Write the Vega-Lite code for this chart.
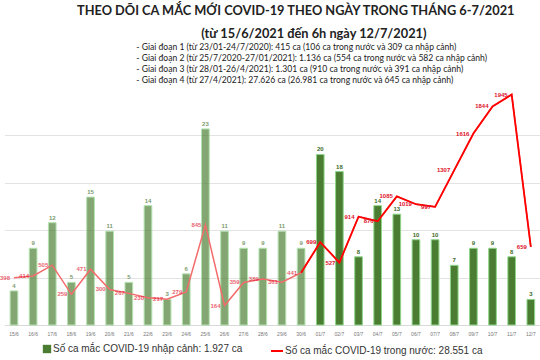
{
  "$schema": "https://vega.github.io/schema/vega-lite/v6.json",
  "width": 536,
  "height": 237,
  "autosize": "none",
  "padding": {"left": 4.4, "top": 88, "right": 0, "bottom": 35},
  "background": "white",
  "title": {
    "text": ["THEO DÕI CA MẮC MỚI COVID-19 THEO NGÀY TRONG THÁNG 6-7/2021", "\u200b\u00a0\u00a0\u00a0\u00a0\u00a0\u00a0\u00a0\u00a0\u00a0\u00a0\u00a0\u00a0\u00a0\u00a0\u00a0\u00a0\u00a0\u00a0\u00a0\u00a0\u00a0\u00a0\u00a0\u00a0\u00a0\u00a0\u00a0\u00a0\u00a0\u00a0\u00a0\u00a0\u00a0\u00a0\u00a0\u00a0\u00a0\u00a0\u00a0\u00a0(từ 15/6/2021 đến 6h ngày 12/7/2021)"],
    "subtitle": [
      "\u200b\u00a0\u00a0\u00a0\u00a0\u00a0\u00a0\u00a0\u00a0\u00a0\u00a0\u00a0\u00a0\u00a0\u00a0\u00a0\u00a0\u00a0\u00a0\u00a0\u00a0\u00a0\u00a0\u00a0\u00a0\u00a0\u00a0\u00a0- Giai đoạn 1 (từ 23/01-24/7/2020): 415 ca (106 ca trong nước và 309 ca nhập cảnh)",
      "\u200b\u00a0\u00a0\u00a0\u00a0\u00a0\u00a0\u00a0\u00a0\u00a0\u00a0\u00a0\u00a0\u00a0\u00a0\u00a0\u00a0\u00a0\u00a0\u00a0\u00a0\u00a0\u00a0\u00a0\u00a0\u00a0\u00a0\u00a0- Giai đoạn 2 (từ 25/7/2020-27/01/2021): 1.136 ca (554 ca trong nước và 582 ca nhập cảnh)",
      "\u200b\u00a0\u00a0\u00a0\u00a0\u00a0\u00a0\u00a0\u00a0\u00a0\u00a0\u00a0\u00a0\u00a0\u00a0\u00a0\u00a0\u00a0\u00a0\u00a0\u00a0\u00a0\u00a0\u00a0\u00a0\u00a0\u00a0\u00a0- Giai đoạn 3 (từ 28/01-26/4/2021): 1.301 ca (910 ca trong nước và 391 ca nhập cảnh)",
      "\u200b\u00a0\u00a0\u00a0\u00a0\u00a0\u00a0\u00a0\u00a0\u00a0\u00a0\u00a0\u00a0\u00a0\u00a0\u00a0\u00a0\u00a0\u00a0\u00a0\u00a0\u00a0\u00a0\u00a0\u00a0\u00a0\u00a0\u00a0- Giai đoạn 4 (từ 27/4/2021): 27.626 ca (26.981 ca trong nước và 645 ca nhập cảnh)"
    ],
    "anchor": "start",
    "frame": "group",
    "dx": 72.6,
    "offset": 3,
    "limit": 600,
    "font": "Lato",
    "fontSize": 12.8,
    "fontWeight": "bold",
    "color": "#222222",
    "lineHeight": 23,
    "subtitleFont": "Lato",
    "subtitleFontSize": 8.6,
    "subtitleColor": "#222222",
    "subtitleLineHeight": 11,
    "subtitlePadding": 3
  },
  "data": {
    "values": [
      {"date": "15/6", "month": 6, "import": 4, "domestic": 398},
      {"date": "16/6", "month": 6, "import": 9, "domestic": 414},
      {"date": "17/6", "month": 6, "import": 12, "domestic": 505},
      {"date": "18/6", "month": 6, "import": 5, "domestic": 259},
      {"date": "19/6", "month": 6, "import": 15, "domestic": 471},
      {"date": "20/6", "month": 6, "import": 11, "domestic": 300},
      {"date": "21/6", "month": 6, "import": 5, "domestic": 267},
      {"date": "22/6", "month": 6, "import": 14, "domestic": 230},
      {"date": "23/6", "month": 6, "import": 3, "domestic": 217},
      {"date": "24/6", "month": 6, "import": 6, "domestic": 279},
      {"date": "25/6", "month": 6, "import": 23, "domestic": 845},
      {"date": "26/6", "month": 6, "import": 11, "domestic": 164},
      {"date": "27/6", "month": 6, "import": 9, "domestic": 359},
      {"date": "28/6", "month": 6, "import": 9, "domestic": 389},
      {"date": "29/6", "month": 6, "import": 11, "domestic": 361},
      {"date": "30/6", "month": 6, "import": 9, "domestic": 441},
      {"date": "01/7", "month": 7, "import": 20, "domestic": 699},
      {"date": "02/7", "month": 7, "import": 18, "domestic": 527},
      {"date": "03/7", "month": 7, "import": 8, "domestic": 914},
      {"date": "04/7", "month": 7, "import": 14, "domestic": 876},
      {"date": "05/7", "month": 7, "import": 13, "domestic": 1085},
      {"date": "06/7", "month": 7, "import": 10, "domestic": 1019},
      {"date": "07/7", "month": 7, "import": 10, "domestic": 997},
      {"date": "08/7", "month": 7, "import": 7, "domestic": 1307},
      {"date": "09/7", "month": 7, "import": 9, "domestic": 1616},
      {"date": "10/7", "month": 7, "import": 9, "domestic": 1844},
      {"date": "11/7", "month": 7, "import": 8, "domestic": 1945},
      {"date": "12/7", "month": 7, "import": 3, "domestic": 659}
    ]
  },
  "encoding": {
    "x": {
      "field": "date",
      "type": "ordinal",
      "sort": null,
      "scale": {"paddingInner": 0.6, "paddingOuter": 0.3},
      "axis": {
        "title": null,
        "labelAngle": 0,
        "labelFontSize": 5,
        "labelFont": "Liberation Sans",
        "labelColor": "#777777",
        "labelPadding": 6.5,
        "ticks": false,
        "domainColor": "#d9d9d9",
        "grid": false
      }
    }
  },
  "layer": [
    {
      "layer": [
        {
          "mark": {"type": "bar", "stroke": "#8fd68a", "strokeWidth": 1},
          "encoding": {
            "y": {"field": "import", "type": "quantitative", "scale": {"domain": [0, 27.8], "nice": false}, "axis": null},
            "fill": {
              "datum": "Số ca mắc COVID-19 nhập cảnh: 1.927 ca",
              "scale": {"range": ["#4a7d32"]},
              "legend": {
                "orient": "none",
                "legendX": 37.6,
                "legendY": 256,
                "title": null,
                "labelFont": "Liberation Sans",
                "labelFontSize": 10,
                "labelColor": "#333333",
                "labelOffset": 1,
                "labelLimit": 400,
                "symbolType": "square",
                "symbolSize": 70,
                "symbolStrokeWidth": 0,
                "symbolOpacity": 1
              }
            },
            "opacity": {"field": "month", "type": "nominal", "scale": {"domain": [6, 7], "range": [0.68, 1]}, "legend": null}
          }
        },
        {
          "mark": {"type": "text", "dy": -5, "fontSize": 6, "fontWeight": "bold", "font": "Liberation Sans", "color": "#3b6b28"},
          "encoding": {
            "y": {"field": "import", "type": "quantitative"},
            "text": {"field": "import", "type": "quantitative"},
            "opacity": {"field": "month", "type": "nominal", "legend": null}
          }
        }
      ]
    },
    {
      "layer": [
        {
          "mark": {"type": "line", "color": "#f36b6b", "strokeWidth": 1.5},
          "encoding": {
            "y": {
              "field": "domestic",
              "type": "quantitative",
              "scale": {"domain": [0, 2000], "nice": false},
              "axis": {
                "orient": "right",
                "title": null,
                "grid": true,
                "values": [0, 200, 400, 600, 800, 1000, 1200, 1400, 1600, 1800],
                "labels": false,
                "ticks": false,
                "domain": false,
                "gridColor": "#e3e3e3",
                "gridWidth": 1
              }
            }
          }
        },
        {
          "transform": [{"filter": "datum.month == 7 || datum.date == '30/6'"}],
          "mark": {"type": "line", "strokeWidth": 1.8},
          "encoding": {
            "y": {"field": "domestic", "type": "quantitative"},
            "stroke": {
              "datum": "Số ca mắc COVID-19 trong nước: 28.551 ca",
              "scale": {"range": ["#ff0000"]},
              "legend": {
                "orient": "none",
                "legendX": 265.6,
                "legendY": 256,
                "title": null,
                "labelFont": "Liberation Sans",
                "labelFontSize": 10,
                "labelColor": "#333333",
                "labelOffset": 1,
                "labelLimit": 400,
                "symbolType": "stroke",
                "symbolSize": 144,
                "symbolStrokeWidth": 2
              }
            }
          }
        },
        {
          "mark": {"type": "text", "align": "right", "baseline": "middle", "dx": -4, "fontSize": 6, "fontWeight": "bold", "font": "Liberation Sans", "color": "#e0102a"},
          "encoding": {
            "y": {"field": "domestic", "type": "quantitative"},
            "text": {"field": "domestic", "type": "quantitative"},
            "opacity": {"field": "month", "type": "nominal", "legend": null}
          }
        }
      ]
    }
  ],
  "resolve": {"scale": {"y": "independent"}},
  "config": {"view": {"stroke": null}}
}
